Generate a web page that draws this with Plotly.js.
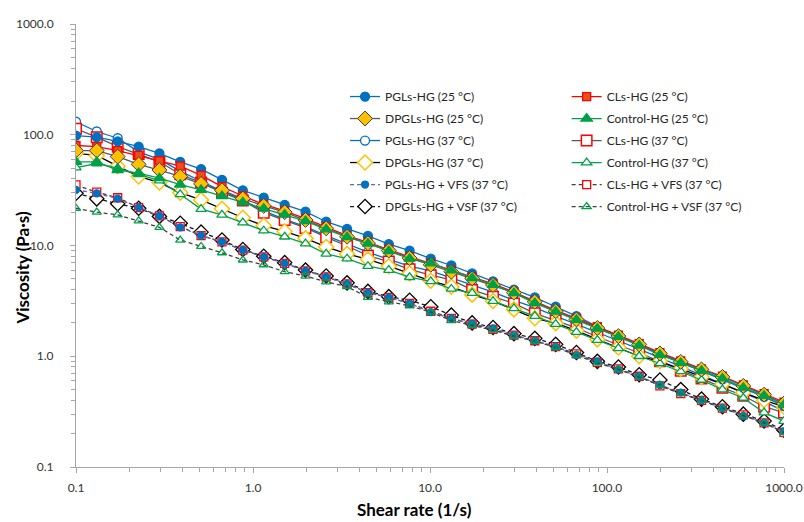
<!DOCTYPE html>
<html>
<head>
<meta charset="utf-8">
<script src="https://cdn.plot.ly/plotly-3.0.1.min.js"></script>
<style>html,body{margin:0;padding:0;background:#fff;}#chart{width:804px;height:522px;}</style>
</head>
<body>
<div id="chart"></div>
<script>
// Shear rate (1/s)
const shearRate = [0.1, 0.131, 0.172, 0.226, 0.296, 0.388, 0.509, 0.668, 0.876, 1.15, 1.51, 1.98, 2.59, 3.40, 4.46, 5.85, 7.67, 10.1, 13.2, 17.3, 22.7, 29.8, 39.1, 51.3, 67.2, 88.2, 116, 152, 199, 261, 342, 449, 589, 772, 1000];

// Viscosity (Pa·s)
const pgls25 = [98, 95, 87, 78, 68, 57, 49, 39.2, 31.5, 27.1, 23.3, 20.2, 16.4, 14.1, 12.2, 10.3, 9.0, 7.6, 6.6, 5.6, 4.75, 4.0, 3.4, 2.8, 2.3, 1.85, 1.52, 1.27, 1.05, 0.88, 0.74, 0.62, 0.52, 0.43, 0.355];
const cls25 = [80, 78, 72, 65, 58, 52, 43, 34, 28, 23.5, 20.5, 17.5, 14.8, 12.3, 10.7, 9.2, 7.9, 6.9, 6.0, 5.2, 4.5, 3.8, 3.15, 2.6, 2.2, 1.85, 1.55, 1.3, 1.08, 0.91, 0.77, 0.66, 0.55, 0.46, 0.385];
const dpgls25 = [72, 72, 63.5, 54, 48, 42, 36, 31.5, 26.5, 22.8, 20.0, 17.0, 14.3, 12.0, 10.5, 9.0, 7.7, 6.7, 5.8, 5.05, 4.4, 3.75, 3.1, 2.55, 2.15, 1.8, 1.52, 1.28, 1.06, 0.89, 0.76, 0.65, 0.54, 0.45, 0.375];
const control25 = [57, 57, 48, 45, 40.5, 35.5, 31.8, 28, 24.5, 21.5, 19, 16.6, 14.0, 11.9, 10.4, 8.9, 7.6, 6.9, 5.95, 5.07, 4.41, 3.71, 3.02, 2.53, 2.13, 1.78, 1.5, 1.25, 1.03, 0.87, 0.74, 0.63, 0.52, 0.44, 0.365];
const pgls37 = [131, 107, 93, 70, 60, 47, 38, 31, 25.8, 20.5, 17.2, 14.8, 12.3, 10.3, 8.7, 7.5, 6.5, 5.9, 5.1, 4.4, 3.8, 3.2, 2.75, 2.3, 1.95, 1.65, 1.38, 1.16, 0.97, 0.81, 0.68, 0.57, 0.47, 0.39, 0.32];
const cls37 = [113, 95, 78, 67, 57, 44, 37, 30, 25.5, 19.8, 17.0, 14.4, 11.9, 9.9, 8.1, 7.16, 6.1, 5.4, 4.9, 3.97, 3.45, 3.0, 2.44, 2.1, 1.8, 1.5, 1.27, 1.07, 0.9, 0.74, 0.63, 0.52, 0.44, 0.35, 0.31];
const dpgls37 = [68, 65, 52, 42, 37, 30, 25.8, 21.5, 17.8, 15.1, 13.4, 11.6, 9.7, 8.4, 7.5, 6.5, 5.6, 4.8, 4.25, 3.6, 3.15, 2.65, 2.2, 1.99, 1.7, 1.42, 1.2, 1.0, 0.9, 0.77, 0.65, 0.56, 0.47, 0.40, 0.35];
const control37 = [50.5, 55, 50, 44, 38.5, 29, 21.3, 18.9, 16.1, 13.6, 12.0, 10.4, 8.4, 7.6, 6.5, 6.0, 5.17, 4.75, 4.05, 3.71, 3.15, 2.71, 2.3, 1.95, 1.65, 1.4, 1.18, 1.0, 0.86, 0.73, 0.61, 0.50, 0.42, 0.31, 0.26];
const pglsVFS = [31.8, 29.6, 26.5, 22, 18.5, 14.6, 12.3, 10.8, 9.1, 7.9, 6.9, 5.9, 5.2, 4.5, 3.75, 3.4, 3.0, 2.5, 2.2, 1.97, 1.78, 1.55, 1.38, 1.22, 1.03, 0.9, 0.76, 0.66, 0.55, 0.47, 0.40, 0.34, 0.29, 0.25, 0.21];
const clsVFS = [35.2, 30.3, 27.0, 22.0, 18.5, 14.8, 12.3, 10.8, 9.1, 7.9, 6.9, 5.9, 5.2, 4.5, 3.75, 3.4, 3.0, 2.55, 2.2, 1.95, 1.75, 1.55, 1.38, 1.22, 1.05, 0.88, 0.77, 0.66, 0.54, 0.46, 0.40, 0.34, 0.295, 0.25, 0.205];
const dpglsVSF = [29.6, 26.4, 23.8, 21.7, 18.3, 15.9, 13.2, 11.2, 9.2, 8.0, 7.0, 6.0, 5.3, 4.6, 3.85, 3.45, 3.2, 2.8, 2.35, 2.0, 1.82, 1.6, 1.45, 1.28, 1.08, 0.9, 0.8, 0.68, 0.61, 0.5, 0.41, 0.35, 0.3, 0.26, 0.215];
const controlVSF = [21.7, 20, 18.9, 16.7, 14.6, 11.2, 9.8, 8.6, 7.4, 6.7, 5.8, 5.3, 4.7, 4.25, 3.4, 3.1, 2.85, 2.5, 2.1, 1.9, 1.72, 1.52, 1.37, 1.2, 1.02, 0.87, 0.76, 0.65, 0.55, 0.46, 0.40, 0.34, 0.29, 0.25, 0.205];

// Axis tick labels
const majorTicks = [0.1, 1, 10, 100, 1000];
const majorTickText = ["0.1", "1.0", "10.0", "100.0", "1000.0"];

const BLUE = '#0070C0', ORANGE = '#FFC000', RED = '#FF0000', GREEN = '#00A04A', GRAY = '#595959', BLACK = '#000000';

function tr(name, y, o) {
  return {
    type: 'scatter', mode: 'lines+markers', x: shearRate, y: y, name: name,
    legend: o.legend, legendrank: o.rank, legendgroup: name,
    line: {color: o.lc, width: o.lw || 1.3, dash: o.dash || 'solid'},
    marker: {symbol: o.sym, size: o.size, color: o.fill, line: {color: o.mc, width: o.mw || 1.3}}
  };
}

const data = [
  // lower group (dashed)
  tr('DPGLs-HG + VSF (37 °C)', dpglsVSF, {legend: 'legend', rank: 6, lc: '#1a1a1a', dash: '4px,3px', sym: 'diamond', size: 11, fill: '#ffffff', mc: BLACK}),
  tr('CLs-HG + VFS (37 °C)', clsVFS, {legend: 'legend2', rank: 5, lc: '#404040', dash: '4px,3px', sym: 'square', size: 8, fill: '#ffffff', mc: RED}),
  tr('PGLs-HG + VFS (37 °C)', pglsVFS, {legend: 'legend', rank: 5, lc: '#7060B0', dash: '4px,3px', sym: 'circle', size: 7, fill: BLUE, mc: BLUE}),
  tr('Control-HG + VSF (37 °C)', controlVSF, {legend: 'legend2', rank: 6, lc: '#404040', dash: '4px,3px', sym: 'triangle-up-open', size: 8, fill: GREEN, mc: GREEN}),
  // 37 °C open markers
  tr('PGLs-HG (37 °C)', pgls37, {legend: 'legend', rank: 3, lc: BLUE, sym: 'circle', size: 9, fill: '#ffffff', mc: BLUE}),
  tr('CLs-HG (37 °C)', cls37, {legend: 'legend2', rank: 3, lc: GRAY, sym: 'square', size: 10.5, fill: '#ffffff', mc: RED, mw: 1.5}),
  tr('DPGLs-HG (37 °C)', dpgls37, {legend: 'legend', rank: 4, lc: BLACK, sym: 'diamond', size: 11.5, fill: '#ffffff', mc: ORANGE, mw: 1.5}),
  tr('Control-HG (37 °C)', control37, {legend: 'legend2', rank: 4, lc: GREEN, sym: 'triangle-up', size: 9, fill: '#ffffff', mc: GREEN}),
  // 25 °C filled markers
  tr('PGLs-HG (25 °C)', pgls25, {legend: 'legend', rank: 1, lc: BLUE, sym: 'circle', size: 9, fill: BLUE, mc: BLUE}),
  tr('CLs-HG (25 °C)', cls25, {legend: 'legend2', rank: 1, lc: RED, sym: 'square', size: 8, fill: '#E8501A', mc: RED}),
  tr('DPGLs-HG (25 °C)', dpgls25, {legend: 'legend', rank: 2, lc: GRAY, sym: 'diamond', size: 11.5, fill: ORANGE, mc: '#404040', mw: 1}),
  tr('Control-HG (25 °C)', control25, {legend: 'legend2', rank: 2, lc: GREEN, sym: 'triangle-up', size: 10, fill: GREEN, mc: GREEN})
];

const minorTicks = [];
for (let d = -1; d < 3; d++) { for (let k = 2; k <= 9; k++) { minorTicks.push(k * Math.pow(10, d)); } }

const axisCommon = {
  type: 'log', showgrid: false, zeroline: false, showline: true, linecolor: '#A6A6A6', linewidth: 1,
  ticks: 'outside', ticklen: 5, tickcolor: '#A6A6A6', tickwidth: 1,
  tickmode: 'array', tickvals: majorTicks, ticktext: majorTickText,
  tickfont: {family: 'Lato, sans-serif', size: 12, color: '#333333'},
  minor: {tickmode: 'array', tickvals: minorTicks, ticks: 'outside', ticklen: 4, tickcolor: '#A6A6A6', showgrid: false}
};

const legendCommon = {
  orientation: 'v', bgcolor: 'rgba(0,0,0,0)', borderwidth: 0,
  font: {family: 'Lato, sans-serif', size: 12, color: '#262626'},
  traceorder: 'grouped', tracegroupgap: 3, itemwidth: 30, yanchor: 'top', xanchor: 'left'
};

const layout = {
  width: 804, height: 522,
  margin: {l: 76, r: 20, t: 24, b: 55},
  paper_bgcolor: '#ffffff', plot_bgcolor: '#ffffff',
  showlegend: true,
  xaxis: Object.assign({}, axisCommon, {range: [-1, 3], ticklabelstandoff: 5, title: {text: ''}}),
  yaxis: Object.assign({}, axisCommon, {range: [-1, 3], ticklabelstandoff: 14, title: {text: ''}}),
  legend: Object.assign({}, legendCommon, {x: 0.38, y: 0.869}),
  legend2: Object.assign({}, legendCommon, {x: 0.693, y: 0.869}),
  annotations: [
    {text: '<b>Shear rate (1/s)</b>', xref: 'paper', yref: 'paper', x: 0.478, y: -0.097, yanchor: 'middle', xanchor: 'center', showarrow: false,
     font: {family: 'Lato, sans-serif', size: 17, color: '#000000'}},
    {text: '<b>Viscosity (Pa·s)</b>', xref: 'paper', yref: 'paper', x: -0.075, y: 0.45, xanchor: 'center', yanchor: 'middle', textangle: -90, showarrow: false,
     font: {family: 'Lato, sans-serif', size: 17, color: '#000000'}}
  ]
};

Plotly.newPlot('chart', data, layout, {staticPlot: true});
</script>
</body>
</html>
